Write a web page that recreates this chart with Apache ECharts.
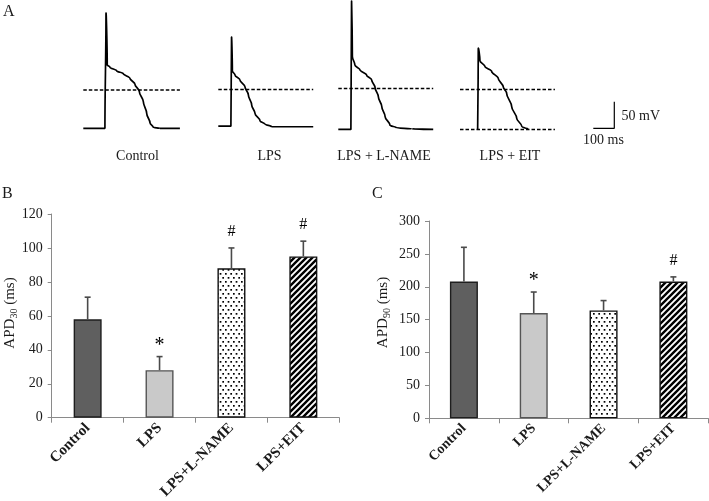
<!DOCTYPE html>
<html>
<head>
<meta charset="utf-8">
<script src="https://cdn.jsdelivr.net/npm/echarts@6/dist/echarts.min.js"></script>
<style>
html,body{margin:0;padding:0;background:#fff;}
#c{width:709px;height:501px;}
</style>
</head>
<body>
<div id="c"></div>
<script>
// ---------- DATA ----------
// Panel A: action-potential traces (time in ms from trace start, voltage in mV; 0 mV = dashed reference)
const ctrlT  = [0,103,108,114,127,159,190,222,246,267,286,302,318,333,365,460];
const ctrlV  = [-73,-73,137,46,42,35,30,21,10,-4,-23,-45,-63,-71,-73,-73];
const lpsT   = [0,60,63,67,80,103,127,143,159,175,199,222,254,452];
const lpsV   = [-69,-69,94,35,27,18,5,-10,-29,-45,-59,-65,-70,-70];
const lnameT = [0,60,63,67,79,103,135,159,175,191,207,223,246,278,350,452];
const lnameV = [-75,-75,159,62,46,37,27,18,4,-14,-32,-51,-67,-72,-74,-75];
const eitT   = [84,87,95,119,151,182,206,222,246,270,294,325];
const eitV   = [-75,76,54,43,34,21,5,-7,-32,-54,-69,-74];
const eitBaselineV = -75;
const traceEnds = [460,452,452,452];
const refLevels = [-1,0,2,0];
const traceNames = ['Control','LPS','LPS + L-NAME','LPS + EIT'];
// scale bar (ms, mV)
const scaleBarT = [-100,0,0];
const scaleBarV = [0,0,50];
const scaleBarLabels = ['50 mV','100 ms'];

// Panels B & C
const categories = ['Control','LPS','LPS+L-NAME','LPS+EIT'];
const apd30Mean = [58,28,88,95];
const apd30Err  = [71,36,100,104];
const apd30Mark = ['','*','#','#'];
const apd90Mean = [208,160,164,208];
const apd90Err  = [260,192,179,215];
const apd90Mark = ['','*','','#'];
const apd30Ticks = {min:0,max:120,interval:20};
const apd90Ticks = {min:0,max:300,interval:50};
const yTitles = ['{a|APD}{s|30}{a| (ms)}','{a|APD}{s|90}{a| (ms)}'];
const panelLetters = ['A','B','C'];

// ---------- STYLE / LAYOUT ----------
const FONT = '"Liberation Serif","Times New Roman",serif';
const TXT = '#1a1a1a';
const AX = '#8a8a8a';
const PX_PER_MS = 0.21;
const A_TOP = 1.7, A_H = 135.7, A_YMIN = -90, A_YMAX = 165;
const traceLefts = [83.3,218.3,338.3,460];
const traceLabelX = [137.5,269.5,384,510];

function makePattern(kind){
  const c = document.createElement('canvas');
  if (kind === 'dots'){
    c.width = 16; c.height = 8;
    const x = c.getContext('2d');
    x.fillStyle = '#fff'; x.fillRect(0,0,16,8);
    x.fillStyle = '#000';
    [[1,1],[6.33,1],[11.67,1],[3.67,5],[9,5],[14.33,5]].forEach(p=>x.fillRect(p[0],p[1],1.7,1.7));
  } else {
    const s = 6;
    c.width = s; c.height = s;
    const x = c.getContext('2d');
    x.fillStyle = '#fff'; x.fillRect(0,0,s,s);
    x.strokeStyle = '#000';
    x.lineWidth = 2.4;
    x.beginPath();
    x.moveTo(-1,s+1); x.lineTo(s+1,-1);
    x.moveTo(-4,4); x.lineTo(4,-4);
    x.moveTo(s-4,s+4); x.lineTo(s+4,s-4);
    x.stroke();
  }
  return {image:c, repeat:'repeat'};
}
const barFills = ['#5f5f5f','#c9c9c9',makePattern('dots'),makePattern('stripes')];
const barBorders = ['#1e1e1e','#555','#111','#111'];

const chart = echarts.init(document.getElementById('c'), null, {renderer:'canvas'});

const grids = [], xAxes = [], yAxes = [], series = [];

// Panel A grids
const traces = [[ctrlT,ctrlV],[lpsT,lpsV],[lnameT,lnameV],[eitT,eitV]];
traces.forEach((tr,i)=>{
  grids.push({left:traceLefts[i], top:A_TOP, width:traceEnds[i]*PX_PER_MS, height:A_H, outerBoundsMode:'none'});
  xAxes.push({type:'value', gridIndex:i, min:0, max:traceEnds[i], show:false});
  yAxes.push({type:'value', gridIndex:i, min:A_YMIN, max:A_YMAX, show:false});
  series.push({
    type:'line', xAxisIndex:i, yAxisIndex:i, data:tr[0].map((t,k)=>[t,tr[1][k]]),
    showSymbol:false, smooth:0.35, smoothMonotone:'y', clip:false,
    lineStyle:{color:'#000', width:1.7}, silent:true, z:3
  });
  series.push({
    type:'line', xAxisIndex:i, yAxisIndex:i, data:[[0,refLevels[i]],[traceEnds[i],refLevels[i]]],
    showSymbol:false, clip:false,
    lineStyle:{color:'#000', width:1.5, type:[3.5,2]}, silent:true, z:2
  });
});
// EIT dashed baseline
series.push({
  type:'line', xAxisIndex:3, yAxisIndex:3, data:[[0,eitBaselineV],[traceEnds[3],eitBaselineV]],
  showSymbol:false, clip:false, lineStyle:{color:'#000', width:1.5, type:[3.5,2]}, silent:true, z:2
});
// scale bar grid (index 4)
grids.push({left:593.3, top:101.7, width:21, height:26.6, outerBoundsMode:'none'});
xAxes.push({type:'value', gridIndex:4, min:-100, max:0, show:false});
yAxes.push({type:'value', gridIndex:4, min:0, max:50, show:false});
series.push({
  type:'line', xAxisIndex:4, yAxisIndex:4, data:scaleBarT.map((t,k)=>[t,scaleBarV[k]]),
  showSymbol:false, clip:false, lineStyle:{color:'#000', width:1.2}, silent:true
});

// Bar panels
function barPanel(gi, grid, ticks, means, errs, marks, xFont){
  grids.push(Object.assign({outerBoundsMode:'none', containLabel:false}, grid));
  xAxes.push({
    type:'category', gridIndex:gi, data:categories,
    axisLine:{lineStyle:{color:AX, width:1}},
    axisTick:{show:true, length:5, lineStyle:{color:AX}},
    axisLabel:{rotate:45, margin:8, interval:0, color:TXT, fontFamily:FONT, fontSize:xFont, fontWeight:'bold'}
  });
  yAxes.push({
    type:'value', gridIndex:gi, min:ticks.min, max:ticks.max, interval:ticks.interval,
    axisLine:{show:true, lineStyle:{color:AX, width:1}},
    axisTick:{show:true, length:4, lineStyle:{color:AX}},
    splitLine:{show:false},
    axisLabel:{margin:9, color:TXT, fontFamily:FONT, fontSize:14}
  });
  series.push({
    type:'bar', xAxisIndex:gi, yAxisIndex:gi, barWidth:28,
    data: means.map((v,k)=>({value:v, itemStyle:{color:barFills[k], borderColor:barBorders[k], borderWidth:1.4}})),
    silent:true, z:2
  });
  series.push({
    type:'custom', xAxisIndex:gi, yAxisIndex:gi, silent:true, z:5,
    data: means.map((v,k)=>[k, v, errs[k]]),
    encode:{x:0, y:[1,2]},
    renderItem:function(params, api){
      const idx = api.value(0);
      const p0 = api.coord([idx, api.value(1)]);
      const p1 = api.coord([idx, api.value(2)]);
      const mk = marks[params.dataIndex];
      const kids = [
        {type:'line', shape:{x1:p0[0], y1:p0[1], x2:p1[0], y2:p1[1]}, style:{stroke:'#4a4a4a', lineWidth:1.6}},
        {type:'line', shape:{x1:p1[0]-3, y1:p1[1], x2:p1[0]+3, y2:p1[1]}, style:{stroke:'#4a4a4a', lineWidth:1.6}}
      ];
      if (mk){
        kids.push({type:'text', x:p1[0], y:p1[1] - (mk==='*'?11:16),
          style:{text:mk, fill:'#000', font:(mk==='*'?'20px ':'16px ')+FONT, align:'center', verticalAlign:'middle'}});
      }
      return {type:'group', children:kids};
    }
  });
}
barPanel(5, {left:51.7, top:214, width:287.6, height:203.7}, apd30Ticks, apd30Mean, apd30Err, apd30Mark, 15);
barPanel(6, {left:429, top:221, width:279.3, height:197.3}, apd90Ticks, apd90Mean, apd90Err, apd90Mark, 14);

// text labels
const graphic = [];
const letterPos = [[3,12],[2,194],[372,194]];
panelLetters.forEach((l,i)=>graphic.push({type:'text', x:letterPos[i][0], y:letterPos[i][1],
  style:{text:l, font:'16px '+FONT, fill:TXT, verticalAlign:'middle'}}));
traceNames.forEach((n,i)=>graphic.push({type:'text', x:traceLabelX[i], y:156,
  style:{text:n, font:'14px '+FONT, fill:TXT, align:'center', verticalAlign:'middle'}}));
graphic.push({type:'text', x:621.5, y:116.5, style:{text:scaleBarLabels[0], font:'14px '+FONT, fill:TXT, verticalAlign:'middle'}});
graphic.push({type:'text', x:603.5, y:140, style:{text:scaleBarLabels[1], font:'14px '+FONT, fill:TXT, align:'center', verticalAlign:'middle'}});
// y-axis titles with subscripts
const yTitlePos = [[10,313],[383,312.5]];
yTitles.forEach((t,i)=>graphic.push({type:'text', x:yTitlePos[i][0], y:yTitlePos[i][1], rotation:Math.PI/2,
  style:{text:t, align:'center', verticalAlign:'middle', rich:{
    a:{fontFamily:FONT, fontSize:15, fill:TXT, lineHeight:18},
    s:{fontFamily:FONT, fontSize:10, fill:TXT, lineHeight:12, verticalAlign:'bottom'}
  }}}));

chart.setOption({
  backgroundColor:'#fff',
  animation:false,
  grid:grids, xAxis:xAxes, yAxis:yAxes, series:series, graphic:graphic
});
</script>
</body>
</html>
